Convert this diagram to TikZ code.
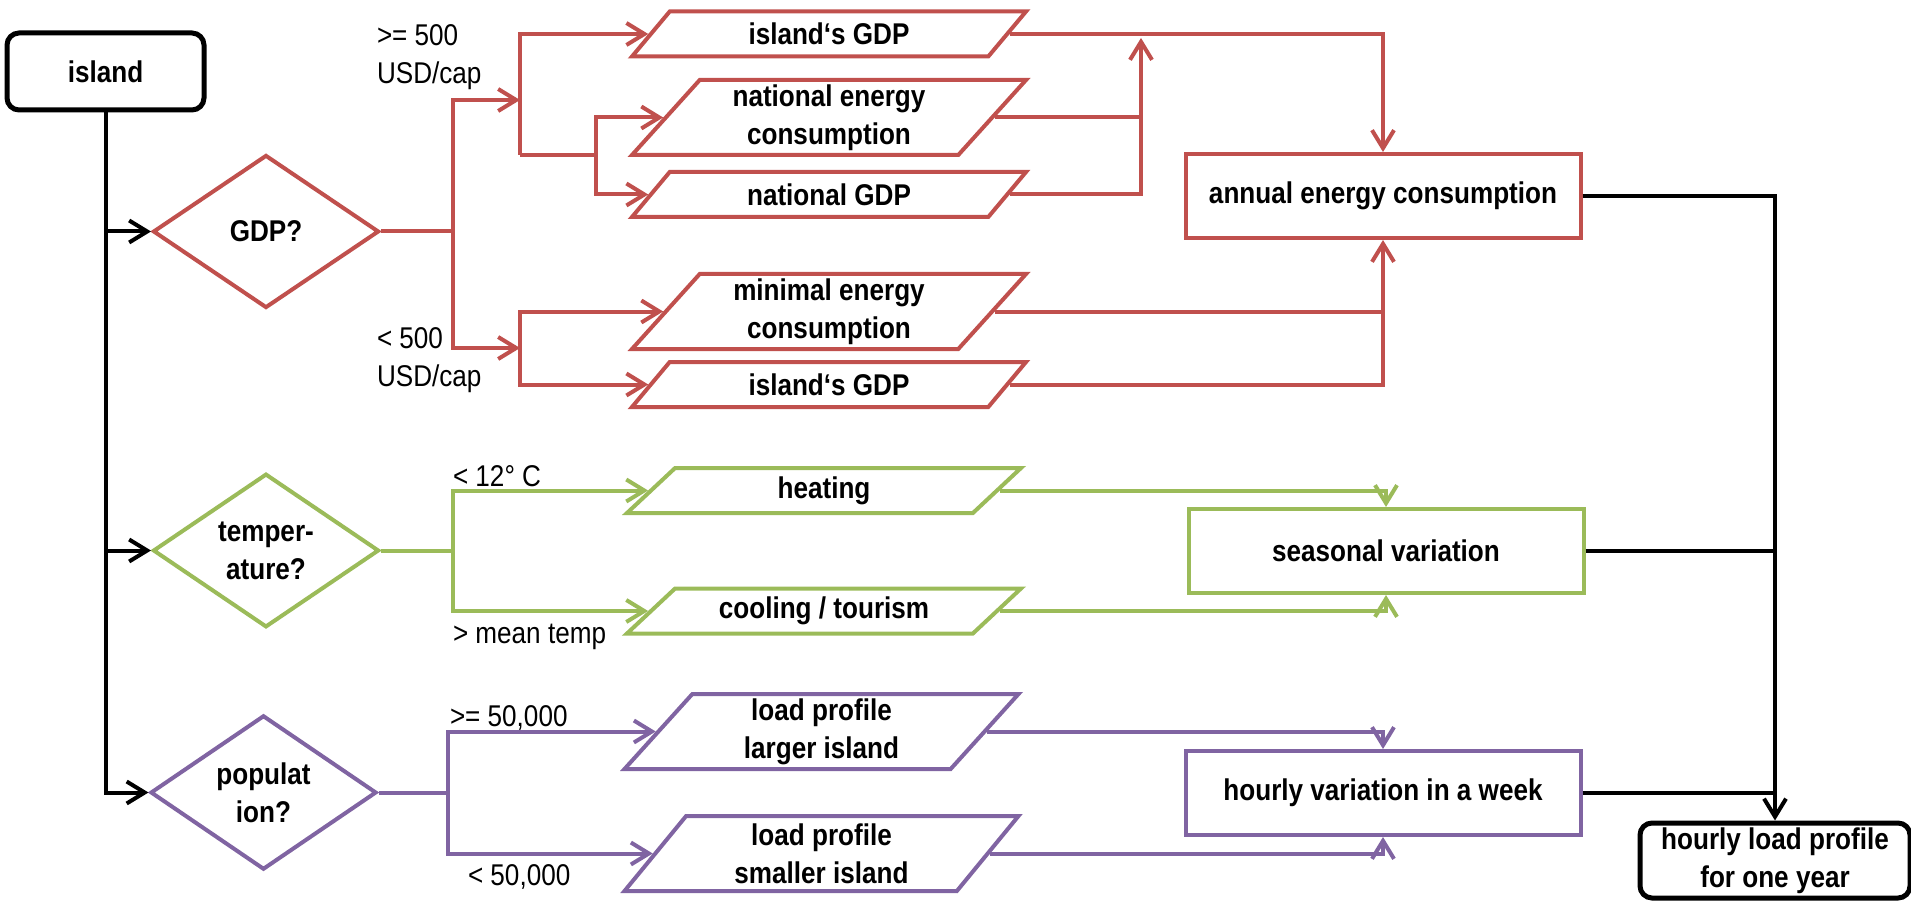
\documentclass[tikz,border=0pt]{standalone}
\usepackage{fontspec}
\setmainfont{Liberation Sans}[FakeStretch=0.87]
\usepackage{tikz}
\usetikzlibrary{shapes.geometric, arrows.meta, positioning}
\definecolor{gdpred}{HTML}{C0504D}
\definecolor{tempgreen}{HTML}{9BBB59}
\definecolor{poppurple}{HTML}{8064A2}
\tikzset{
	>={Straight Barb[length=18pt, width=22pt]}, % open arrow heads
	txt/.style={font=\fontsize{30}{38}\selectfont}, % plain text
	boldtxt/.style={font=\fontsize{30}{38}\selectfont\bfseries}, % text inside the shapes
	terminal/.style={draw, rounded corners=12pt, line width=5pt, minimum width=197pt, minimum height=77pt, align=center, boldtxt}, % start and end
	decision/.style={diamond, draw, minimum width=226pt, minimum height=153pt, inner sep=0pt, align=center, boldtxt}, % questions
	io/.style={trapezium, draw, trapezium stretches body, minimum width=394pt, inner sep=0pt, align=center, boldtxt}, % data
	ioone/.style={io, minimum height=45pt, trapezium left angle=30.3, trapezium right angle=149.7}, % one line of data
	iotwo/.style={io, minimum height=75pt, trapezium left angle=44.25, trapezium right angle=135.75}, % two lines of data
	process/.style={draw, minimum width=395pt, minimum height=84pt, boldtxt}, % results
	cond/.style={anchor=west, inner sep=0pt, align=left, txt} % branch conditions
}

\begin{document}
\begin{tikzpicture}[x=1pt, y=-1pt, line width=4pt]
	\useasboundingbox (0,0) rectangle (1911,901);
	\node[terminal] (island) at (105.5,71.5) {island};
	\node[decision, draw=gdpred] (gdp) at (266,231.5) {GDP?};
	\node[decision, draw=tempgreen] (temp) at (266,550.5) {temper-\\ature?};
	\node[decision, draw=poppurple] (pop) at (263.5,792.5) {populat\\ion?};

	\node[ioone, draw=gdpred] (islgdp) at (829,34) {island‘s GDP};
	\node[iotwo, draw=gdpred] (natcons) at (829,117.5) {national energy\\consumption};
	\node[ioone, draw=gdpred] (natgdp) at (829,194.5) {national GDP};
	\node[iotwo, draw=gdpred] (mincons) at (829,311.5) {minimal energy\\consumption};
	\node[ioone, draw=gdpred] (islgdpb) at (829,384.5) {island‘s GDP};
	\node[ioone, draw=tempgreen] (heat) at (824,490.5) {heating};
	\node[ioone, draw=tempgreen] (cool) at (824,611) {cooling / tourism};
	\node[iotwo, draw=poppurple] (large) at (821.5,731.5) {load profile\\larger island};
	\node[iotwo, draw=poppurple] (small) at (821.5,853.5) {load profile\\smaller island};

	\node[process, draw=gdpred] (annual) at (1383,196) {annual energy consumption};
	\node[process, draw=tempgreen] (season) at (1386,551) {seasonal variation};
	\node[process, draw=poppurple] (week) at (1383,793) {hourly variation in a week};
	\node[terminal, minimum width=270pt, minimum height=75pt] (year) at (1775,860.5) {hourly load profile\\for one year};

	\node[cond] (rich) at (375,57.5) {>= 500\\USD/cap};
	\node[cond] (poor) at (375,360) {< 500\\USD/cap};
	\node[cond] (cold) at (451,476) {< 12° C};
	\node[cond] (warm) at (451,637) {> mean temp};
	\node[cond] (big) at (448,718) {>= 50,000};
	\node[cond] (tiny) at (466,877) {< 50,000};

	% island to the three questions
	\draw[->] (island.south) |- (pop.west);
	\draw[->] (island.south |- gdp.west) -- (gdp.west);
	\draw[->] (island.south |- temp.west) -- (temp.west);

	% GDP
	\coordinate (gfork) at ([xshift=72pt]gdp.east);
	\coordinate (upper) at (520,100);
	\coordinate (lower) at (520,348);
	\coordinate (natfork) at (596,155);
	\coordinate (natjoin) at (1141,38);
	\draw[gdpred] (gdp.east) -- (gfork);
	\draw[gdpred, ->] (gfork) |- (upper);
	\draw[gdpred, ->] (gfork) |- (lower);
	\draw[gdpred, ->] (upper |- natfork) |- (islgdp.left side);
	\draw[gdpred] (upper |- natfork) -- (natfork);
	\draw[gdpred, ->] (natfork) |- (natcons.left side);
	\draw[gdpred, ->] (natfork) |- (natgdp.left side);
	\draw[gdpred, ->] (lower) |- (mincons.left side);
	\draw[gdpred, ->] (lower) |- (islgdpb.left side);
	\draw[gdpred, ->] (natgdp.right side) -| (natjoin);
	\draw[gdpred] (natcons.right side) -- (natcons.right side -| natjoin);
	\draw[gdpred, ->] (islgdp.right side) -| (annual.north);
	\draw[gdpred, ->] (islgdpb.right side) -| (annual.south);
	\draw[gdpred] (mincons.right side) -- (mincons.right side -| annual.south);

	% temperature
	\coordinate (tfork) at ([xshift=72pt]temp.east);
	\draw[tempgreen] (temp.east) -- (tfork);
	\draw[tempgreen, ->] (tfork) |- (heat.left side);
	\draw[tempgreen, ->] (tfork) |- (cool.left side);
	\draw[tempgreen, ->] (heat.right side) -| (season.north);
	\draw[tempgreen, ->] (cool.right side) -| (season.south);

	% population
	\coordinate (pfork) at ([xshift=69pt]pop.east);
	\draw[poppurple] (pop.east) -- (pfork);
	\draw[poppurple, ->] (pfork) |- (large.left side);
	\draw[poppurple, ->] (pfork) |- (small.left side);
	\draw[poppurple, ->] (large.right side) -| (week.north);
	\draw[poppurple, ->] (small.right side) -| (week.south);

	% load profile
	\draw[->] (annual.east) -| (year.north);
	\draw (season.east) -- (season.east -| year.north);
	\draw (week.east) -- (week.east -| year.north);
\end{tikzpicture}
\end{document}
